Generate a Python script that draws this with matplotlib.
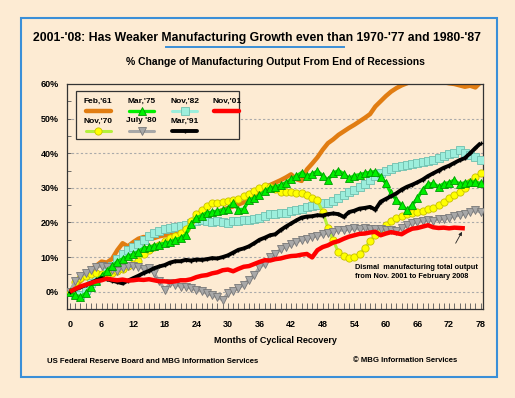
import numpy as np
import matplotlib
matplotlib.use('Agg')
import matplotlib.pyplot as plt
from matplotlib.lines import Line2D
from matplotlib.patches import Rectangle

plt.rcParams['font.family'] = ['Liberation Sans', 'DejaVu Sans']
plt.rcParams['font.weight'] = 'bold'

# ---------------- data: % change from end of recession, by month ----------------
feb61 = [0, 1.5, 3, 4.5, 6.3, 7.5, 8.7, 8.4, 9.5, 12, 14, 13.1, 14.3, 15.3, 15.8, 15.5,
         15.5, 16, 16.3, 16.5, 16.9, 17.8, 18.9, 19.8, 20.5, 21.2, 21.8, 22.4, 23.0, 23.6,
         24.2, 24.6, 25.2, 25.8, 26.3, 27.5, 29.0, 30.2, 30.8, 31.5, 32.2, 33.0, 33.9, 32.5,
         32.0, 35.3, 37.0, 38.8, 41.0, 42.9, 44.0, 45.3, 46.3, 47.3, 48.2, 49.2, 50.2, 51.3,
         53.5, 55.0, 56.5, 57.8, 58.8, 59.6, 60.2, 61.0, 61.5, 62, 62, 61.5, 61, 60.5, 60.2,
         60.0, 59.6, 59.2, 59.5, 59.0, 60.5]
nov70 = [0, 2.9, 3.9, 4.5, 5.0, 5.5, 5.0, 5.0, 5.5, 6.0, 6.5, 7.3, 8.0, 9.0, 11.0, 12.0,
         13.0, 13.6, 14.5, 15.5, 16.2, 17.0, 18.0, 20.5, 22.5, 23.5, 24.7, 25.7, 25.7, 25.9,
         26.1, 26.4, 26.8, 27.6, 28.3, 29.2, 30.0, 30.5, 30.2, 29.8, 28.8, 28.8, 28.8, 28.6,
         28.4, 27.8, 27.2, 26.4, 23.0, 18.5, 14.8, 11.4, 10.4, 9.8, 10.0, 10.9, 12.6, 14.5,
         16.5, 18.2, 19.4, 20.3, 21.2, 21.8, 22.3, 22.8, 23.1, 23.4, 23.8, 24.3, 24.9, 25.8,
         27.0, 28.0, 28.8, 30.0, 31.8, 33.0, 34.2]
mar75 = [0, -1.0, -1.5, -0.5, 1.5, 3.0, 4.5, 6.0, 7.3, 8.7, 9.5, 10.2, 10.8, 11.6, 12.6,
         12.8, 13.3, 13.6, 14.0, 14.3, 15.0, 15.5, 16.5, 19.5, 21.3, 22.0, 22.8, 23.0, 23.3,
         23.6, 24.0, 25.7, 23.7, 23.8, 26.5, 27.0, 27.8, 29.0, 30.0, 30.3, 30.8, 31.5, 32.5,
         33.4, 34.4, 33.4, 34.0, 34.8, 33.5, 32.3, 34.2, 35.0, 34.0, 32.7, 33.5, 33.8, 34.2,
         34.5, 34.7, 33.2, 31.3, 28.4, 26.5, 25.0, 23.5, 25.0, 27.0, 29.5, 31.0, 31.3, 30.3,
         31.2, 31.5, 32.2, 31.0, 31.5, 31.8, 31.6, 31.3]
jul80 = [0, 3.0, 4.5, 5.3, 6.3, 7.2, 7.3, 7.0, 6.3, 6.0, 6.8, 7.3, 7.3, 7.2, 6.6, 6.8, 5.3,
         3.0, 0.5, 2.4, 2.0, 1.5, 1.5, 1.0, 0.5, 0.2, -0.5, -1.0, -1.5, -2.4, -0.5, 0.3, 1.0,
         2.0, 3.5, 4.8, 7.0, 8.0, 10.0, 11.0, 12.2, 13.0, 13.8, 14.3, 15.0, 15.3, 15.8, 16.1,
         16.6, 17.0, 17.3, 17.9, 17.7, 18.0, 18.3, 18.1, 18.3, 18.0, 18.2, 18.1, 17.7, 17.9,
         17.6, 18.3, 19.2, 19.8, 20.1, 20.3, 20.6, 20.5, 20.9, 21.1, 21.4, 21.8, 22.1, 22.5,
         23.0, 23.5, 23.0]
nov82 = [0, -0.8, -1.0, 0.5, 2.5, 3.5, 4.8, 5.8, 7.5, 9.5, 11.0, 12.1, 12.8, 13.8, 15.0,
         16.2, 16.9, 17.5, 18.1, 18.4, 18.7, 18.9, 19.4, 19.9, 20.5, 20.8, 20.3, 20.1, 20.3,
         20.0, 19.9, 20.3, 20.3, 20.6, 20.8, 21.0, 21.3, 21.8, 22.3, 22.5, 22.8, 22.8, 23.2,
         23.7, 24.0, 24.4, 24.7, 25.1, 25.5, 25.7, 26.3, 27.2, 28.0, 28.8, 29.5, 30.3, 31.2,
         32.2, 33.3, 34.2, 34.8, 35.5, 35.9, 36.3, 36.6, 36.8, 37.1, 37.4, 37.7, 38.0, 38.6,
         39.3, 39.8, 40.2, 40.8, 40.0, 39.5, 38.8, 38.0]
mar91 = [0, 0.7, 1.3, 1.9, 2.6, 3.3, 3.9, 3.6, 3.2, 2.8, 2.4, 3.2, 3.9, 4.6, 5.4, 6.0, 6.8,
         7.3, 7.7, 8.4, 8.8, 8.8, 9.2, 9.0, 9.3, 9.2, 9.4, 9.7, 9.6, 10.0, 10.5, 11.3, 12.1,
         12.5, 13.1, 14.0, 15.0, 15.6, 16.3, 16.6, 17.8, 18.8, 19.7, 20.6, 21.4, 21.7, 21.8,
         22.1, 22.0, 22.4, 22.6, 22.4, 21.6, 23.0, 23.4, 24.0, 24.2, 24.5, 23.7, 26.0, 26.8,
         27.6, 28.4, 29.5, 30.3, 30.9, 31.6, 32.4, 33.4, 34.2, 35.0, 35.8, 36.4, 37.2, 38.0,
         38.6, 40.0, 41.5, 42.9]
nov01 = [0, 0.8, 1.5, 2.0, 2.5, 3.0, 3.3, 3.8, 3.5, 3.3, 3.5, 3.2, 3.3, 3.5, 3.4, 3.6, 3.3,
         3.0, 3.0, 2.8, 3.0, 3.3, 3.3, 3.6, 4.2, 4.6, 4.8, 5.3, 5.6, 6.2, 6.4, 5.9, 6.6, 7.2,
         7.4, 8.0, 8.6, 9.1, 9.0, 9.4, 9.6, 10.0, 10.3, 10.4, 10.7, 10.9, 9.9, 12.0, 12.9,
         13.4, 14.2, 14.6, 15.3, 15.9, 16.3, 16.7, 16.8, 17.1, 17.3, 16.3, 16.8, 17.2, 16.9,
         16.6, 17.5, 18.2, 18.4, 18.8, 19.2, 18.6, 18.4, 18.5, 18.3, 18.5, 18.4, 18.3]

x_ticks = list(range(0, 79, 6))
y_ticks = [0, 10, 20, 30, 40, 50, 60]

bg = '#FDEBD3'

# ---------------- styles ----------------
styles = {
    "Feb,'61": dict(color='#E17D12', lw=3.2, zorder=2),
    "Nov,'82": dict(color='#9CEEDC', lw=2.2, marker='s', ms=5.5, mfc='#9CEEDC', mec='#6FBFAE', mew=0.6, zorder=3),
    "Nov,'70": dict(color='#B4F03C', lw=2.2, marker='o', ms=5.2, mfc='#FFFF00', mec='#C8C000', mew=0.6, zorder=4),
    "Mar,'75": dict(color='#00F000', lw=2.4, marker='^', ms=5.2, mfc='#00F000', mec='#009A00', mew=0.6, zorder=5),
    "July '80": dict(color='#A8A8A8', lw=2.2, marker='v', ms=5.5, mfc='#A8A8A8', mec='#787878', mew=0.6, zorder=4.5),
    "Mar,'91": dict(color='#000000', lw=2.8, marker='+', ms=3, mew=1, zorder=6),
    "Nov,'01": dict(color='#FF0000', lw=3.2, zorder=7),
}
series = {"Feb,'61": feb61, "Nov,'82": nov82, "Nov,'70": nov70, "Mar,'75": mar75,
          "July '80": jul80, "Mar,'91": mar91, "Nov,'01": nov01}

fig = plt.figure(figsize=(5.15, 3.98), dpi=100, facecolor=bg)
ax = fig.add_axes([0.1307, 0.2236, 0.8072, 0.5654])
ax.set_facecolor(bg)

for name, vals in series.items():
    ax.plot(np.arange(len(vals)), vals, solid_capstyle='butt', **styles[name])

ax.set_xlim(-0.5, 78.45)
ax.set_ylim(-5, 60)
ax.set_xticks(x_ticks)
ax.set_xticks(range(0, 79), minor=True)
ax.set_yticks(y_ticks)
ax.set_yticks(range(-5, 61, 5), minor=True)
ax.set_yticklabels([f'{v}%' for v in y_ticks])
ax.tick_params(axis='x', which='both', direction='in', length=4, width=0.6, color='#555555',
               labelsize=6.5, pad=8)
ax.tick_params(axis='y', which='both', direction='in', length=3, width=0.6, color='#555555',
               labelsize=6.5, pad=6)
for s in ax.spines.values():
    s.set_color('#333333')
    s.set_linewidth(0.9)
for g in range(0, 60, 10):
    ax.axhline(g, color='#AAAAAA', lw=0.8, ls=(0, (2, 2)), zorder=1)

ax.set_xlabel('Months of Cyclical Recovery', fontsize=6.5, fontweight='bold', labelpad=5)

# annotation
ax.annotate('', xy=(74.7, 18.0), xytext=(73.0, 13.3),
            arrowprops=dict(arrowstyle='-|>', color='#222222', lw=0.6, mutation_scale=5), zorder=8)
ax.text(54.1, 5.7, 'Dismal  manufacturing total output\nfrom Nov. 2001 to February 2008',
        fontsize=5.3, fontweight='bold', va='center', ha='left', linespacing=1.35, zorder=8)

# legend (labels above handles)
ax.add_patch(Rectangle((0.021, 0.754), 0.391, 0.216, transform=ax.transAxes, facecolor=bg,
                       edgecolor='#333333', lw=0.9, zorder=9))
leg_cols = [0.0745, 0.179, 0.2824, 0.3834]
leg_rows = [(0.921, 0.881), (0.836, 0.791)]
leg_order = [["Feb,'61", "Mar,'75", "Nov,'82", "Nov,'01"], ["Nov,'70", "July '80", "Mar,'91"]]
for r, names in enumerate(leg_order):
    ty, hy = leg_rows[r]
    for c, name in enumerate(names):
        cx = leg_cols[c]
        ax.text(cx, ty, name, transform=ax.transAxes, ha='center', va='center',
                fontsize=6, fontweight='bold', zorder=10)
        st = dict(styles[name])
        st['zorder'] = 10
        ax.add_line(Line2D([cx - 0.03, cx, cx + 0.03], [hy, hy, hy], transform=ax.transAxes,
                           markevery=[1], solid_capstyle='round', **st))

# titles and frame
fig.text(0.4985, 0.905, "2001-'08: Has Weaker Manufacturing Growth even than 1970-'77 and 1980-'87",
         ha='center', va='center', fontsize=8.8, fontweight='bold')
fig.add_artist(Line2D([165.7 / 515, 344.3 / 515], [1 - 46.7 / 398] * 2, color='#3A8FD8', lw=1.4))
fig.text(0.535, 1 - 62.3 / 398, '% Change of Manufacturing Output From End of Recessions',
         ha='center', va='center', fontsize=7.5, fontweight='bold')
fig.text(46.7 / 515, 1 - 361.7 / 398, 'US Federal Reserve Board and MBG Information Services',
         ha='left', va='center', fontsize=5.6, fontweight='bold')
fig.text(353.3 / 515, 1 - 361 / 398, '\u00a9 MBG Information Services',
         ha='left', va='center', fontsize=5.6, fontweight='bold')
fig.add_artist(Rectangle((21 / 515, 1 - 377 / 398), 476 / 515, 359 / 398, transform=fig.transFigure,
                         fill=False, edgecolor='#3A8FD8', lw=1.5))

fig.savefig('out.png', dpi=100, facecolor=bg)
